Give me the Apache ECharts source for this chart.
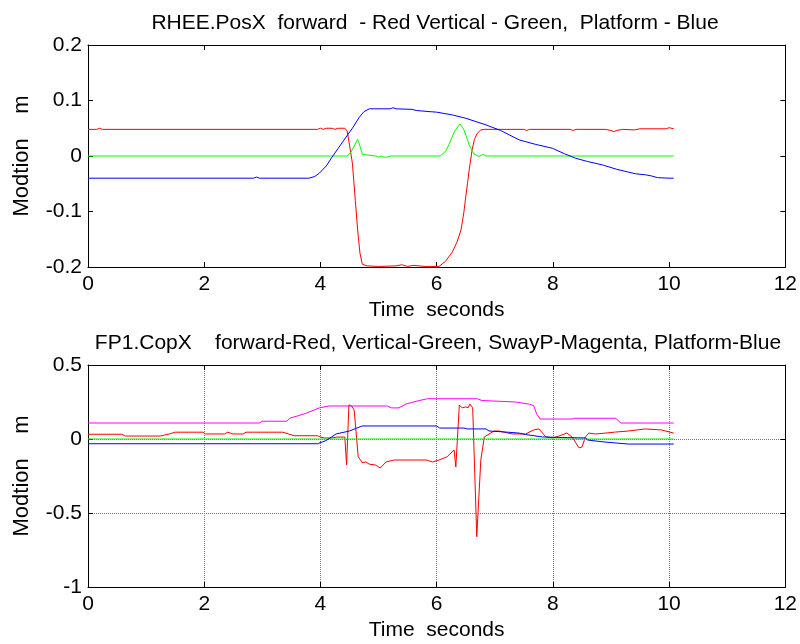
<!DOCTYPE html>
<html>
<head>
<meta charset="utf-8">
<script src="https://cdn.jsdelivr.net/npm/echarts@6/dist/echarts.min.js"></script>
<style>
  html, body { margin: 0; padding: 0; background: #fff; }
  #main { width: 800px; height: 644px; }
</style>
</head>
<body>
<div id="main"></div>
<script>
// time axis ticks (seconds)
const timeTicks = [0, 2, 4, 6, 8, 10, 12];

// top plot: RHEE.PosX  [time, metres]
const posForward = [[0,0.048],[0.15,0.048],[0.2,0.05],[0.25,0.048],[3.95,0.048],[4.0,0.05],[4.05,0.048],[4.1,0.05],[4.2,0.05],[4.25,0.048],[4.3,0.05],[4.42,0.05],[4.46,0.045],[4.5,0.02],[4.55,-0.013],[4.6,-0.08],[4.64,-0.133],[4.68,-0.175],[4.72,-0.195],[4.8,-0.198],[5.0,-0.199],[5.3,-0.198],[5.4,-0.196],[5.5,-0.199],[5.6,-0.197],[5.8,-0.199],[6.04,-0.199],[6.15,-0.19],[6.27,-0.173],[6.35,-0.155],[6.42,-0.133],[6.47,-0.1],[6.5,-0.074],[6.53,-0.05],[6.56,-0.025],[6.61,0.011],[6.65,0.03],[6.7,0.041],[6.76,0.047],[6.82,0.048],[7.5,0.048],[7.55,0.046],[7.6,0.048],[8.3,0.048],[8.35,0.046],[8.4,0.048],[8.9,0.048],[9.0,0.046],[9.05,0.044],[9.1,0.046],[9.2,0.048],[9.4,0.047],[9.5,0.049],[9.95,0.049],[10.0,0.051],[10.08,0.049]];
const posVertical = [[0,0],[4.46,0],[4.52,0.006],[4.58,0.018],[4.64,0.03],[4.68,0.018],[4.72,0.003],[4.75,0],[4.95,0],[5.0,-0.002],[5.05,0],[5.1,-0.002],[5.15,-0.002],[5.2,0],[6.06,0],[6.15,0.008],[6.21,0.02],[6.3,0.043],[6.4,0.058],[6.47,0.047],[6.56,0.02],[6.64,0.004],[6.73,-0.001],[6.8,0.003],[6.85,0],[10.08,0]];
const posPlatform = [[0,-0.04],[2.85,-0.04],[2.9,-0.038],[2.95,-0.04],[3.8,-0.04],[3.9,-0.037],[3.98,-0.031],[4.1,-0.018],[4.2,-0.002],[4.3,0.013],[4.38,0.025],[4.44,0.034],[4.55,0.05],[4.67,0.07],[4.75,0.08],[4.84,0.085],[5.2,0.085],[5.25,0.087],[5.3,0.085],[5.58,0.084],[5.65,0.082],[5.87,0.08],[6.0,0.079],[6.27,0.074],[6.5,0.068],[6.85,0.056],[7.1,0.046],[7.42,0.029],[7.7,0.021],[7.99,0.014],[8.2,0.004],[8.39,-0.004],[8.6,-0.01],[8.85,-0.016],[9.1,-0.024],[9.42,-0.032],[9.6,-0.034],[9.7,-0.036],[9.8,-0.039],[10.0,-0.04],[10.08,-0.04]];

// bottom plot: FP1.CopX  [time, metres]
const copForward = [[0,0.032],[0.58,0.032],[0.64,0.02],[1.24,0.02],[1.3,0.025],[1.4,0.034],[1.5,0.046],[1.98,0.046],[2.02,0.034],[2.35,0.034],[2.4,0.046],[2.45,0.04],[2.5,0.034],[2.67,0.034],[2.72,0.046],[3.35,0.046],[3.45,0.034],[3.55,0.022],[3.95,0.022],[4.0,0.013],[4.07,0.007],[4.2,0.007],[4.28,0.013],[4.42,0.013],[4.45,-0.176],[4.49,0.23],[4.53,0.225],[4.58,0.196],[4.65,-0.12],[4.72,-0.16],[4.78,-0.155],[4.84,-0.17],[4.95,-0.176],[5.03,-0.196],[5.13,-0.155],[5.27,-0.142],[5.82,-0.142],[5.93,-0.155],[6.04,-0.142],[6.18,-0.12],[6.3,-0.074],[6.33,-0.189],[6.39,0.23],[6.44,0.21],[6.5,0.217],[6.54,0.21],[6.57,0.236],[6.62,0.21],[6.69,-0.66],[6.76,-0.142],[6.82,0.014],[6.99,0.054],[7.07,0.054],[7.3,0.034],[7.53,0.034],[7.67,0.061],[7.76,0.068],[7.88,0.014],[8.0,0.007],[8.1,0.02],[8.24,0.04],[8.33,0.014],[8.45,-0.06],[8.5,-0.055],[8.56,0.014],[8.62,0.04],[8.73,0.034],[8.91,0.04],[9.08,0.047],[9.3,0.054],[9.59,0.068],[9.87,0.061],[10.08,0.04]];
const copVertical = [[0,0],[10.08,0]];
const copSway = [[0,0.108],[2.95,0.108],[3.0,0.12],[3.42,0.12],[3.47,0.14],[3.6,0.155],[3.76,0.175],[3.98,0.21],[4.15,0.223],[5.15,0.223],[5.22,0.21],[5.35,0.21],[5.47,0.236],[5.67,0.257],[5.84,0.272],[6.7,0.272],[6.78,0.26],[7.07,0.255],[7.36,0.25],[7.6,0.235],[7.67,0.225],[7.72,0.17],[7.78,0.135],[8.33,0.135],[8.38,0.14],[9.08,0.14],[9.17,0.108],[10.08,0.108]];
const copPlatform = [[0,-0.032],[3.95,-0.032],[4.1,-0.01],[4.27,0.034],[4.5,0.054],[4.6,0.07],[4.72,0.088],[6.0,0.088],[6.05,0.074],[6.47,0.074],[6.52,0.068],[6.85,0.068],[6.9,0.054],[7.19,0.047],[7.42,0.04],[7.53,0.03],[7.82,0.014],[8.16,0.01],[8.56,0.007],[8.6,-0.007],[8.88,-0.02],[9.3,-0.034],[10.08,-0.034]];

const font = 'Liberation Sans, Arial, sans-serif';
const txt = { color: '#000', fontFamily: font, fontSize: 21 };
const yName = { color: '#000', fontFamily: font, fontSize: 22 };

function xAxes(gi, showGrid) {
  const base = {
    type: 'value', gridIndex: gi, min: timeTicks[0], max: timeTicks[timeTicks.length - 1], interval: 2,
    axisLine: { onZero: false, lineStyle: { color: '#000', width: 1 } },
    axisTick: { inside: true, length: 5, lineStyle: { color: '#000' } }
  };
  return [
    Object.assign({}, base, {
      position: 'bottom',
      axisLabel: Object.assign({ margin: 7 }, txt),
      splitLine: { show: showGrid, lineStyle: { color: '#777', type: 'dotted' } },
      name: 'Time  seconds', nameLocation: 'middle', nameGap: 33, nameTextStyle: txt
    }),
    Object.assign({}, base, { position: 'top', axisLabel: { show: false }, splitLine: { show: false } })
  ];
}

function yAxes(gi, min, max, step, showGrid) {
  const base = {
    type: 'value', gridIndex: gi, min: min, max: max, interval: step,
    axisLine: { onZero: false, lineStyle: { color: '#000', width: 1 } },
    axisTick: { inside: true, length: 5, lineStyle: { color: '#000' } }
  };
  return [
    Object.assign({}, base, {
      position: 'left',
      axisLabel: Object.assign({ margin: 6, formatter: v => String(+v.toFixed(2)) }, txt),
      splitLine: { show: showGrid, lineStyle: { color: '#777', type: 'dotted' } },
      name: 'Modtion    m', nameLocation: 'middle', nameGap: 55, nameTextStyle: yName
    }),
    Object.assign({}, base, { position: 'right', axisLabel: { show: false }, splitLine: { show: false } })
  ];
}

function line(data, color, xi, yi) {
  return {
    type: 'line', data: data, xAxisIndex: xi, yAxisIndex: yi,
    showSymbol: false, symbol: 'none', animation: false,
    lineStyle: { color: color, width: 1 }
  };
}

const chart = echarts.init(document.getElementById('main'));
chart.setOption({
  backgroundColor: '#fff',
  animation: false,
  title: [
    { text: 'RHEE.PosX  forward  - Red Vertical - Green,  Platform - Blue', left: 430, top: 8, textAlign: 'center', textStyle: Object.assign({ fontWeight: 'normal' }, txt) },
    { text: 'FP1.CopX    forward-Red, Vertical-Green, SwayP-Magenta, Platform-Blue', left: 433, top: 328, textAlign: 'center', textStyle: Object.assign({ fontWeight: 'normal' }, txt) }
  ],
  grid: [
    { left: 88, right: 13, top: 45, height: 222 },
    { left: 88, right: 13, top: 365, height: 222 }
  ],
  xAxis: xAxes(0, false).concat(xAxes(1, true)),
  yAxis: yAxes(0, -0.2, 0.2, 0.1, false).concat(yAxes(1, -1, 0.5, 0.5, true)),
  series: [
    line(posForward, '#ff0000', 0, 0),
    line(posVertical, '#00ff00', 0, 0),
    line(posPlatform, '#0000ff', 0, 0),
    line(copForward, '#ff0000', 2, 2),
    line(copVertical, '#00ff00', 2, 2),
    line(copSway, '#ff00ff', 2, 2),
    line(copPlatform, '#0000ff', 2, 2)
  ]
});
</script>
</body>
</html>
